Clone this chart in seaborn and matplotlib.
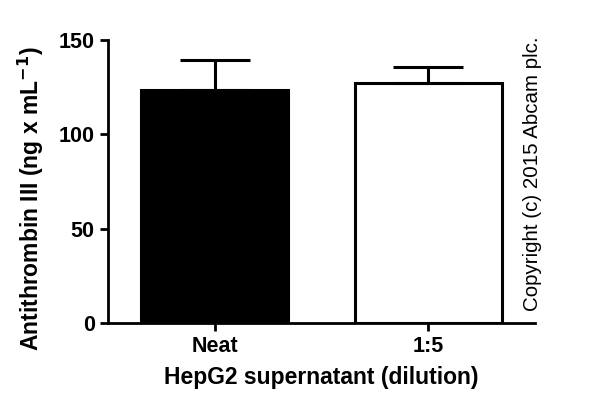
import numpy as np
import pandas as pd
import seaborn as sns
from matplotlib import pyplot as plt

groups = ["Neat", "1:5"]
means = [123.5, 127.5]
sd = [15.8, 8.0]
fills = ["black", "white"]

sns.set_style("ticks")
plt.rcParams["font.family"] = ["Liberation Sans", "DejaVu Sans"]
plt.rcParams["font.weight"] = "bold"
for k in ["text.color", "axes.labelcolor", "xtick.color", "ytick.color",
          "axes.edgecolor"]:
    plt.rcParams[k] = "black"

df = pd.DataFrame({"group": groups, "value": means})

fig = plt.figure(figsize=(6, 4.18), dpi=100)
ax = fig.add_axes([0.18, 0.227, 0.712, 0.677])

sns.barplot(data=df, x="group", y="value", hue="group", palette=fills,
            width=0.69, edgecolor="black", linewidth=2.2, legend=False,
            errorbar=None, ax=ax)
ax.errorbar(np.arange(len(groups)), means, yerr=[np.zeros(len(sd)), sd],
            fmt="none", ecolor="black", elinewidth=2.2, capsize=25,
            capthick=2.2, zorder=1)

ax.set_xlim(-0.5, 1.5)
ax.set_ylim(0, 150)
ax.set_yticks([0, 50, 100, 150])
ax.set_xlabel("HepG2 supernatant (dilution)", fontsize=16.5, fontweight="bold",
              labelpad=6)
ax.set_ylabel(r"Antithrombin III (ng x mL$^{\mathbf{-1}}$)", fontsize=16.5,
              fontweight="bold")
ax.yaxis.set_label_coords(-0.145, 0.44)
ax.tick_params(axis="both", width=2, length=6, labelsize=15.5, direction="out")
for lbl in ax.get_xticklabels() + ax.get_yticklabels():
    lbl.set_fontweight("bold")
for s in ["left", "bottom"]:
    ax.spines[s].set_linewidth(2)
sns.despine(ax=ax)

fig.text(0.887, 0.584, "Copyright (c) 2015 Abcam plc.", rotation=90,
         fontsize=14.8, fontweight="normal", ha="center", va="center")

plt.savefig("out.png", dpi=100)
plt.close(fig)
